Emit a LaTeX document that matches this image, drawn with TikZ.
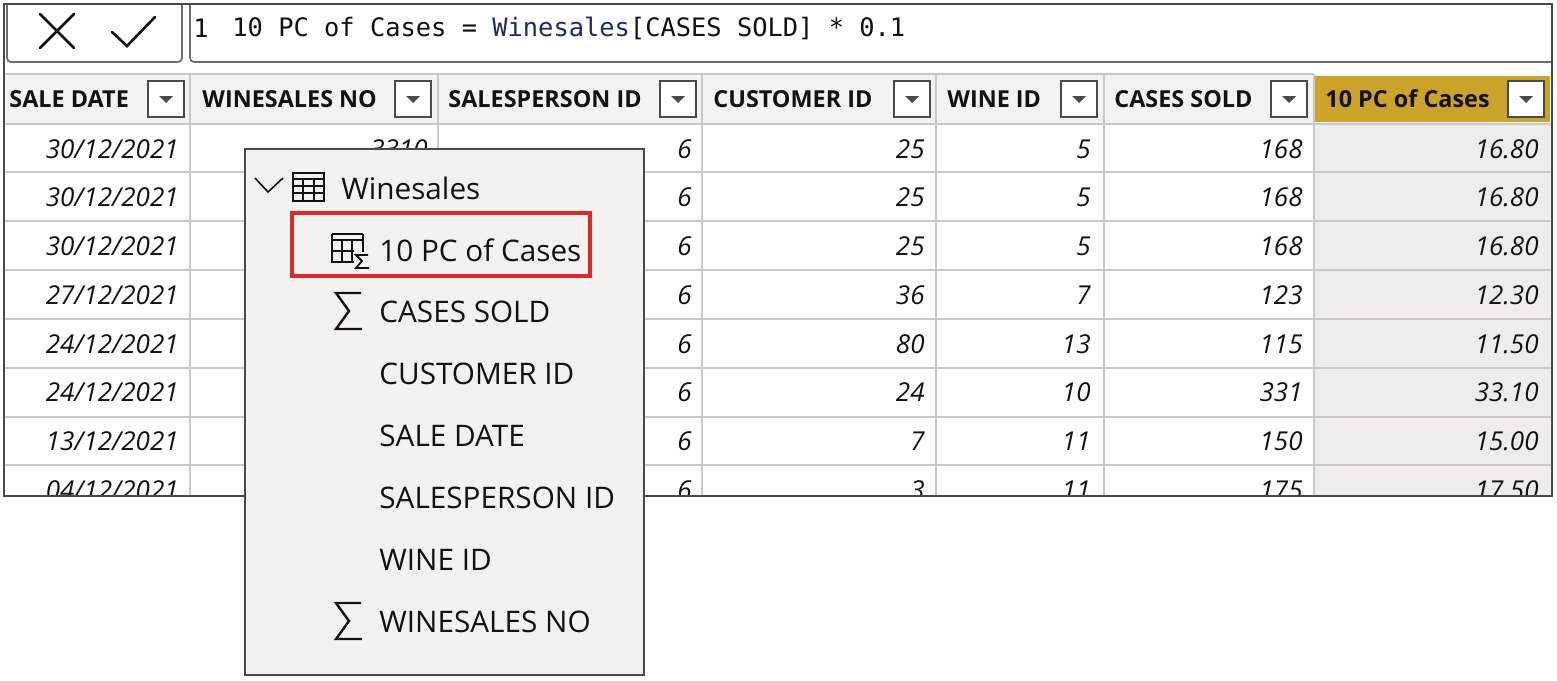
\documentclass[tikz,border=0pt]{standalone}
\usepackage{fontspec}
\setmainfont{Open Sans}
\newfontfamily\codefont{DejaVu Sans Mono}
\definecolor{gridc}{HTML}{C9C9C9}
\definecolor{headc}{HTML}{F3F3F3}
\definecolor{goldc}{HTML}{CBA329}
\definecolor{popc}{HTML}{F3F2F1}
\definecolor{selc}{HTML}{EEEDEC}
\definecolor{edgec}{HTML}{4A4A4A}
\definecolor{redc}{HTML}{DC2A26}
\definecolor{inkc}{HTML}{111111}
\definecolor{navyc}{HTML}{1F2A6B}
\tikzset{
  x=0.5pt,y=-0.5pt,
  gridline/.style={gridc,line width=1.1pt},
  edgeline/.style={edgec,line width=0.7pt},
  headtext/.style={anchor=west,inner sep=0pt,font=\fontsize{11.7}{14}\selectfont\bfseries,text=inkc},
  celltext/.style={anchor=east,inner sep=0pt,font=\fontsize{13}{15}\selectfont\itshape,text=inkc},
  poptext/.style={anchor=west,inner sep=0pt,font=\fontsize{14.85}{18}\selectfont,text=inkc},
  codetext/.style={anchor=west,inner sep=0pt,font=\codefont\fontsize{12.7}{15}\selectfont,text=inkc},
  filterbox/.style={draw=edgec,fill=white,line width=0.8pt,minimum width=18pt,minimum height=18pt,inner sep=0pt},
  iconline/.style={inkc,line width=1.1pt,line join=miter},
}
\newcommand{\sigmaicon}[2]{%
  \draw[iconline,line width=1.2pt] (#1+25,#2) -- (#1,#2) -- (#1+13,#2+18) -- (#1,#2+36) -- (#1+26,#2+36);}
\begin{document}
\begin{tikzpicture}
\useasboundingbox (0,0) rectangle (1557,680);
\fill[white] (0,0) rectangle (1557,680);
% formula bar
\draw[edgec!80,line width=0.9pt,rounded corners=2pt] (7,4) -- (7,62) -- (182,62) -- (182,4);
\draw[edgec!80,line width=0.9pt,rounded corners=2pt] (190,4) -- (190,62) -- (1552,62);
\draw[iconline,line width=1.3pt,line cap=round] (40,14) -- (74,48) (74,14) -- (40,48);
\draw[iconline,line width=1.3pt,line cap=round] (112,32) -- (127,46) -- (155,17);
\node[codetext] (lineno) at (193,28) {1};
\node[codetext] (formula) at (232,28)
  {10 PC of Cases = \textcolor{navyc}{Winesales}[CASES SOLD] * 0.1};
% table body
\fill[selc] (1314,124) rectangle (1552,496);
\fill[headc] (4,74) rectangle (1314,123);
\fill[goldc] (1315,76) rectangle (1550,122);
\foreach \yy in {124,172,221,270,319,368,417,465} \draw[gridline] (4,\yy) -- (1552,\yy);
\draw[gridline] (4,74) -- (1314,74);
\foreach \xx in {190,438,702,936,1104,1314} \draw[gridline] (\xx,74) -- (\xx,496);
% headers
\node[headtext] (h1) at (9,99) {SALE DATE};
\node[headtext] (h2) at (202,99) {WINESALES NO};
\node[headtext] (h3) at (448,99) {SALESPERSON ID};
\node[headtext] (h4) at (713,99) {CUSTOMER ID};
\node[headtext] (h5) at (947,99) {WINE ID};
\node[headtext] (h6) at (1114,99) {CASES SOLD};
\node[headtext] (h7) at (1325,99) {10 PC of Cases};
\foreach \xx/\nm in {166/f1,413/f2,678/f3,912/f4,1079/f5,1289/f6,1526/f7}{
  \node[filterbox] (\nm) at (\xx,99) {};
  \fill[edgec] (\xx-7,96) -- (\xx+7,96) -- (\xx,103) -- cycle;
}
% cells (clipped at the table's lower edge)
\begin{scope}
\clip (4,74) rectangle (1553,496);
\foreach \yy/\da/\sp/\cu/\wi/\ca/\pc [count=\i] in {
 149/30\slash 12\slash 2021/6/25/5/168/16.80,
 197/30\slash 12\slash 2021/6/25/5/168/16.80,
 246/30\slash 12\slash 2021/6/25/5/168/16.80,
 295/27\slash 12\slash 2021/6/36/7/123/12.30,
 344/24\slash 12\slash 2021/6/80/13/115/11.50,
 392/24\slash 12\slash 2021/6/24/10/331/33.10,
 441/13\slash 12\slash 2021/6/7/11/150/15.00,
 490/04\slash 12\slash 2021/6/3/11/175/17.50}{
  \node[celltext] (da\i) at (179,\yy) {\da};
  \node[celltext] (sp\i) at (692,\yy) {\sp};
  \node[celltext] (cu\i) at (925,\yy) {\cu};
  \node[celltext] (wi\i) at (1091,\yy) {\wi};
  \node[celltext] (ca\i) at (1303,\yy) {\ca};
  \node[celltext] (pc\i) at (1539,\yy) {\pc};
}
\node[celltext] (wn1) at (428,149) {3310};
\end{scope}
% outer frame
\draw[edgeline] (4,4) -- (1552,4) -- (1552,496) -- (4,496) -- cycle;
% popup
\draw[edgec,fill=popc,line width=0.8pt] (245,149) rectangle (644,675);
\draw[iconline,line width=0.8pt] (255,178) -- (268,192) -- (283,178);
% table icon
\draw[iconline] (293,173) rectangle (324,201);
\draw[iconline,line width=0.9pt] (293,179) -- (324,179) (293,186) -- (324,186) (293,193) -- (324,193) (303,179) -- (303,201) (314,179) -- (314,201);
% measure row
\node[poptext] (p0) at (341,188) {Winesales};
\draw[redc,line width=2pt] (292,213) rectangle (590,276);
\draw[iconline] (332,234) -- (363,234) (332,240) -- (363,240) (332,234) -- (332,262) -- (354,262)
  (332,251) -- (354,251) (342,240) -- (342,262) (352,240) -- (352,262) (363,234) -- (363,252);
\fill[popc] (354,254) rectangle (370,269);
\draw[iconline,line width=0.9pt] (368,255) -- (356,255) -- (362,261) -- (356,268) -- (369,268);
\node[poptext] (p1) at (379,250) {10 PC of Cases};
\sigmaicon{336}{293}
\node[poptext] (p2) at (379,312) {CASES SOLD};
\node[poptext] (p3) at (379,374) {CUSTOMER ID};
\node[poptext] (p4) at (379,436) {SALE DATE};
\node[poptext] (p5) at (379,498) {SALESPERSON ID};
\node[poptext] (p6) at (379,560) {WINE ID};
\sigmaicon{336}{603}
\node[poptext] (p7) at (379,622) {WINESALES NO};
\end{tikzpicture}
\end{document}
